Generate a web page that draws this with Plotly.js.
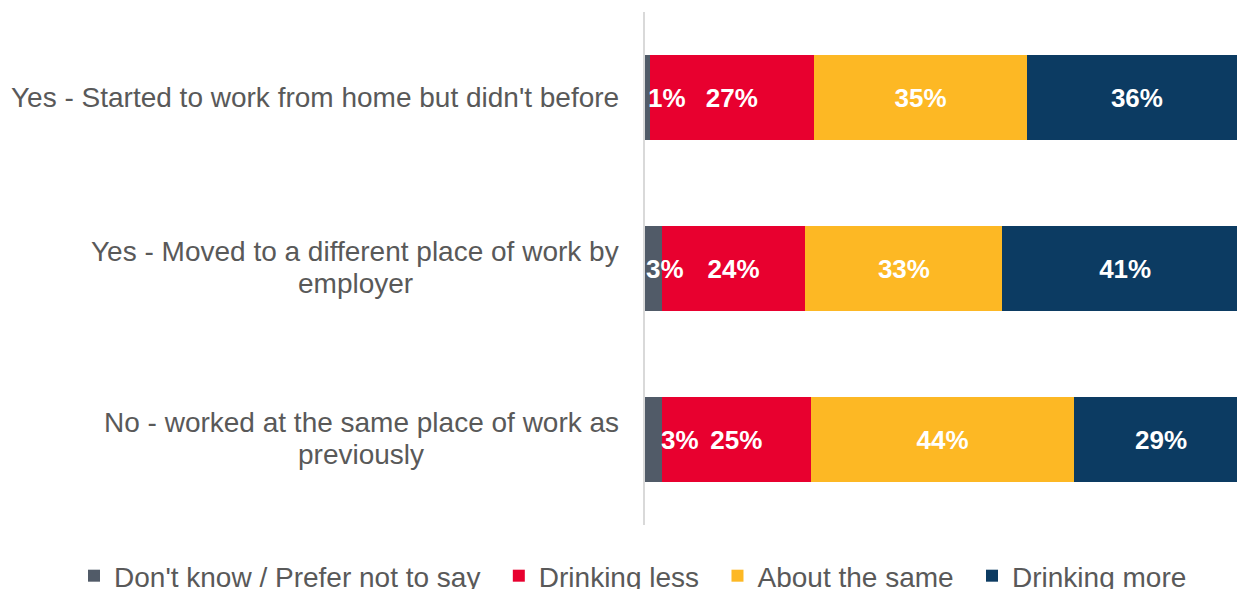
<!DOCTYPE html>
<html>
<head>
<meta charset="utf-8">
<script src="https://cdn.plot.ly/plotly-3.0.1.min.js"></script>
<style>
  html, body { margin: 0; padding: 0; background: #ffffff; }
  #chart { width: 1237px; height: 589px; }
</style>
</head>
<body>
<div id="chart"></div>
<script>
// ---- data ----
const categories = [
  "Yes - Started to work from home but didn't before",
  "Yes - Moved to a different place of work by<br>employer",
  "No - worked at the same place of work as<br>previously"
];
const seriesNames = ["Don't know / Prefer not to say", "Drinking less", "About the same", "Drinking more"];
const dontKnow     = [0.8, 2.8, 2.8];
const drinkingLess = [27.2, 23.8, 24.7];
const aboutSame    = [35.4, 32.7, 43.7];
const drinkingMore = [36.4, 40.7, 28.8];

// ---- styles ----
const colors = ['#515b68', '#e8002f', '#fdb824', '#0c3b62'];
const grayLabelShift = [20, 12, 27]; // px offset of the small-segment labels
const textGray = '#595959';
const FONT = '"Liberation Sans", Arial, sans-serif';
const LABEL_SIZE = 28;
const PLOT_LEFT = 645;
const LABEL_RIGHT = 619;
const LINE_STEP = 32;
const legendPad = '\u00a0\u2009\u200b'; // extra spacing between legend entries

const seriesValues = [dontKnow, drinkingLess, aboutSame, drinkingMore];

const traces = seriesValues.map((vals, i) => ({
  type: 'bar',
  orientation: 'h',
  name: seriesNames[i] + (i < seriesNames.length - 1 ? legendPad : ''),
  x: vals,
  y: categories,
  marker: { color: colors[i], line: { width: 0 } },
  texttemplate: '%{x:.0f}%',
  textposition: i === 0 ? 'none' : 'inside',
  insidetextanchor: 'middle',
  constraintext: 'none',
  textfont: { family: FONT, size: 26, color: '#ffffff', weight: 'bold' },
  hoverinfo: 'none'
}));

// measure label lines so wrapped lines are centred on each other
const ctx = document.createElement('canvas').getContext('2d');
ctx.font = LABEL_SIZE + 'px "Liberation Sans", Arial, sans-serif';

const annotations = [];
categories.forEach((c, k) => {
  const lines = c.split('<br>');
  const maxW = Math.max(...lines.map(l => ctx.measureText(l).width));
  const centerPx = LABEL_RIGHT - maxW / 2;
  const n = lines.length;
  lines.forEach((line, j) => {
    annotations.push({
      xref: 'paper', yref: 'y', x: 0, y: c,
      xanchor: 'center', yanchor: 'middle',
      xshift: centerPx - PLOT_LEFT,
      yshift: ((n - 1) / 2 - j) * LINE_STEP + (n > 1 ? 1 : 0),
      text: line, showarrow: false, align: 'center',
      font: { family: FONT, size: LABEL_SIZE, color: textGray }
    });
  });
  annotations.push({
    xref: 'x', yref: 'y', x: dontKnow[k] / 2, y: c,
    xanchor: 'center', yanchor: 'middle', xshift: grayLabelShift[k],
    text: Math.round(dontKnow[k]) + '%', showarrow: false,
    font: { family: FONT, size: 26, color: '#ffffff', weight: 'bold' }
  });
});

const layout = {
  width: 1237, height: 589,
  margin: { l: PLOT_LEFT, r: 0, t: 12, b: 64, autoexpand: false },
  paper_bgcolor: '#ffffff', plot_bgcolor: '#ffffff',
  barmode: 'stack',
  bargap: 0.5,
  xaxis: { range: [0, 98.2], visible: false, fixedrange: true },
  yaxis: {
    autorange: 'reversed', showticklabels: false, ticks: '',
    showgrid: false, zeroline: false,
    showline: true, linecolor: '#d9d9d9', linewidth: 2, fixedrange: true
  },
  showlegend: true,
  legend: {
    orientation: 'h', traceorder: 'normal',
    xref: 'paper', yref: 'paper',
    x: -0.9645, xanchor: 'left', y: -0.0994, yanchor: 'middle',
    font: { family: FONT, size: 28, color: textGray },
    bgcolor: 'rgba(0,0,0,0)'
  },
  annotations: annotations,
  font: { family: FONT }
};

Plotly.newPlot('chart', traces, layout, { displayModeBar: false, staticPlot: true });
</script>
</body>
</html>
